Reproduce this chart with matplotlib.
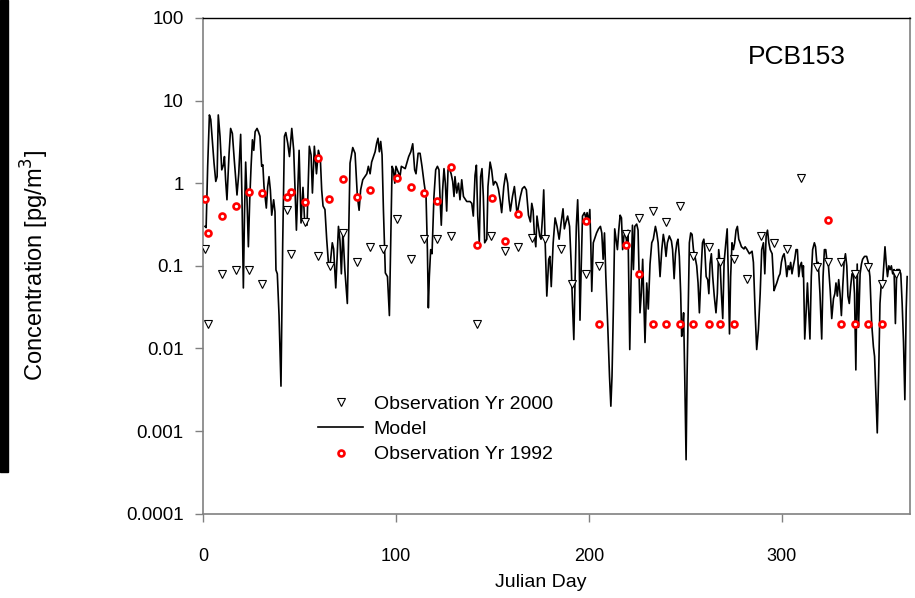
import numpy as np
import matplotlib
matplotlib.use("Agg")
import matplotlib.pyplot as plt
from matplotlib.patches import Rectangle

plt.rcParams['font.family'] = ['Liberation Sans', 'DejaVu Sans']

# observations, year 2000 (open triangles)
days_2000 = [1, 2.8, 10, 16.9, 23.8, 30.8, 43.7, 45.8, 52.9, 59.8, 65.7, 72.5,
             79.7, 86.6, 93.5, 100.7, 107.7, 114.6, 121.5, 128.6, 142.2, 149.3,
             156.6, 163.5, 170.4, 177.3, 185.6, 191.5, 198.4, 205.3, 219.5, 226.2,
             233.1, 240.0, 247.3, 254.2, 262.1, 268.0, 275.3, 282.2, 289.1, 296.0,
             302.9, 309.8, 318.1, 324.0, 330.9, 338.0, 344.7, 352.2, 359.0]
conc_2000 = [0.16, 0.020, 0.079, 0.090, 0.090, 0.060, 0.48, 0.14, 0.34, 0.13, 0.10, 0.25,
             0.11, 0.17, 0.16, 0.37, 0.12, 0.21, 0.21, 0.23, 0.020, 0.23,
             0.15, 0.17, 0.22, 0.21, 0.16, 0.061, 0.079, 0.10, 0.24, 0.38,
             0.46, 0.34, 0.53, 0.13, 0.17, 0.11, 0.12, 0.070, 0.23, 0.19,
             0.16, 1.15, 0.098, 0.11, 0.11, 0.079, 0.098, 0.061, 0.079]

# observations, year 1992 (red circles)
days_1992 = [1.0, 2.8, 10.0, 16.9, 23.8, 30.8, 43.7, 45.8, 52.9, 59.8, 65.5, 72.4,
             79.7, 86.6, 100.7, 107.7, 114.7, 121.5, 128.6, 142.2, 149.6, 156.6,
             163.5, 198.4, 205.3, 219.5, 226.2, 233.1, 240.0, 247.3, 254.2, 262.1,
             268.0, 275.3, 324.0, 330.9, 338.0, 344.7, 352.2]
conc_1992 = [0.65, 0.25, 0.40, 0.53, 0.79, 0.77, 0.69, 0.79, 0.60, 2.0, 0.65, 1.13,
             0.69, 0.83, 1.14, 0.91, 0.76, 0.61, 1.56, 0.18, 0.67, 0.20,
             0.42, 0.35, 0.020, 0.18, 0.079, 0.02, 0.02, 0.02, 0.02, 0.02,
             0.02, 0.02, 0.36, 0.02, 0.02, 0.02, 0.02]

# model run
model_days = [
    1.0, 1.6, 2.4, 3.3, 4.0, 4.8, 5.7, 6.6, 7.3, 7.9, 8.8, 9.7, 10.6, 11.1, 11.7, 12.4,
    13.5, 14.3, 15.2, 16.2, 17.6, 18.5, 19.5, 20.2, 20.9, 21.5, 22.1, 22.8, 23.5, 24.2,
    24.9, 25.6, 26.3, 27.0, 28.0, 28.7, 29.5, 30.4, 31.0, 31.6, 32.8, 33.5, 34.2, 34.9,
    35.6, 36.6, 37.3, 37.8, 38.5, 39.4, 40.4, 41.3, 42.2, 42.9, 43.9, 44.8, 46.0, 47.0,
    48.4, 49.8, 50.8, 51.8, 52.7, 53.9, 55.1, 56.0, 56.7, 57.7, 58.8, 59.8, 60.8, 61.5,
    62.2, 63.2, 64.1, 65.1, 66.0, 67.0, 67.7, 68.8, 70.2, 71.0, 71.7, 72.5, 73.5, 74.8,
    76.2, 77.6, 78.8, 80.0, 80.9, 81.7, 82.8, 84.9, 85.7, 86.6, 87.4, 89.2, 90.0, 90.7,
    91.4, 92.1, 92.8, 93.5, 94.5, 95.6, 96.6, 97.3, 98.0, 98.7, 99.4, 100.0, 102.1, 102.8,
    104.8, 106.6, 107.7, 108.7, 109.7, 110.4, 111.5, 112.5, 113.5, 114.6, 115.6, 116.3,
    116.8, 117.3, 118.0, 118.7, 119.7, 120.6, 121.5, 122.3, 122.9, 123.5, 124.2, 124.9,
    125.6, 126.3, 127.0, 127.7, 128.6, 129.4, 130.1, 130.6, 131.5, 132.4, 133.2, 134.1,
    135.0, 136.7, 138.4, 139.3, 140.1, 141.0, 141.7, 142.4, 143.2, 143.9, 144.6, 145.3,
    146.0, 147.1, 147.7, 148.8, 149.6, 150.5, 151.4, 152.2, 153.1, 154.0, 154.8, 155.9,
    156.9, 157.9, 158.6, 159.3, 160.4, 161.4, 162.1, 162.8, 163.5, 164.5, 165.5, 166.6,
    167.6, 168.7, 169.7, 170.4, 171.1, 171.8, 172.5, 173.1, 173.8, 174.5, 175.2, 176.0,
    176.6, 177.3, 178.2, 179.2, 179.8, 180.5, 181.5, 182.5, 183.5, 184.6, 185.6, 186.6,
    187.3, 188.0, 189.0, 190.0, 190.8, 191.5, 192.2, 192.8, 193.5, 194.2, 194.9, 195.4,
    196.0, 196.7, 197.7, 198.4, 199.1, 199.8, 200.5, 201.0, 201.5, 202.3, 202.9, 204.0,
    205.0, 206.0, 206.7, 207.4, 208.1, 208.8, 209.8, 210.7, 211.4, 212.0, 212.7, 213.4,
    214.1, 214.8, 215.5, 216.2, 216.9, 217.5, 218.2, 219.0, 219.6, 220.3, 221.2, 221.9,
    222.6, 223.1, 223.8, 224.8, 225.5, 226.5, 227.2, 227.9, 229.1, 230.0, 230.8, 231.7,
    232.6, 233.4, 234.5, 235.2, 235.9, 236.9, 237.8, 238.6, 239.3, 240.0, 240.7, 241.7,
    242.8, 243.4, 244.2, 244.9, 245.6, 246.2, 246.9, 247.6, 248.1, 248.6, 249.1, 249.7,
    250.4, 250.9, 251.6, 252.1, 252.8, 253.5, 254.2, 255.0, 255.9, 256.6, 257.3, 258.2,
    258.9, 259.6, 260.1, 260.8, 261.6, 262.2, 262.8, 263.5, 264.2, 265.0, 265.9, 266.6,
    267.3, 268.0, 268.7, 269.4, 270.1, 271.0, 271.7, 272.3, 272.9, 273.5, 274.2, 274.9,
    275.6, 276.3, 277.0, 277.7, 278.4, 279.1, 280.4, 281.0, 281.8, 282.5, 283.2, 283.9,
    284.6, 285.3, 286.2, 287.0, 287.9, 288.8, 289.6, 290.5, 291.2, 291.9, 292.6, 293.3,
    294.0, 295.0, 296.0, 296.7, 297.4, 298.4, 299.1, 299.8, 300.5, 301.2, 301.9, 302.6,
    303.3, 304.0, 304.6, 305.3, 306.0, 306.7, 307.4, 308.1, 308.8, 309.5, 310.2, 310.9,
    311.2, 311.9, 312.6, 313.3, 314.0, 314.6, 315.3, 316.0, 316.9, 317.5, 318.3, 318.9,
    319.8, 320.7, 321.4, 322.1, 322.8, 323.5, 324.2, 325.1, 325.9, 326.8, 327.5, 328.1,
    328.8, 329.5, 330.2, 330.9, 331.6, 332.3, 333.0, 333.7, 334.3, 335.0, 335.7, 336.4,
    337.1, 337.7, 338.4, 339.1, 339.8, 340.6, 341.3, 341.9, 342.9, 344.0, 344.8, 345.7,
    346.6, 347.5, 348.1, 348.8, 349.5, 350.2, 350.9, 351.6, 352.3, 353.0, 353.5, 354.1,
    354.8, 355.5, 356.2, 356.8, 357.5, 358.2, 358.9, 359.6, 360.3, 361.0, 361.7, 362.4,
    363.1, 363.8, 364.5, 365.0]
model_conc = [
    0.30, 0.29, 1.6, 6.7, 5.9, 3.35, 1.75, 1.05, 1.2, 6.7, 3.7, 1.45, 1.67, 2.1, 1.1, 0.63,
    2.3, 4.6, 4.0, 1.9, 0.72, 1.3, 3.9, 0.63, 0.054, 0.43, 1.8, 0.63, 0.17, 0.63,
    1.6, 3.35, 2.5, 4.2, 4.6, 4.2, 3.7, 1.6, 1.67, 0.91, 0.5, 0.91, 1.2, 0.83,
    0.41, 0.63, 0.45, 0.089, 0.08, 0.025, 0.0035, 0.19, 3.7, 4.1, 3.05, 2.1, 4.6, 2.5,
    0.27, 2.5, 0.33, 0.89, 0.33, 0.31, 2.8, 2.2, 0.76, 2.8, 1.3, 2.5, 2.0, 0.83,
    0.53, 0.48, 0.21, 0.10, 0.11, 0.19, 0.16, 0.054, 0.30, 0.20, 0.08, 0.26, 0.09, 0.035,
    1.75, 2.7, 2.3, 0.69, 0.47, 0.83, 1.1, 1.3, 1.6, 1.3, 1.8, 2.4, 3.05, 3.5,
    2.4, 3.2, 2.2, 0.48, 0.082, 0.074, 0.025, 0.19, 1.6, 1.45, 1.0, 1.6, 1.2, 1.6,
    1.5, 2.1, 2.4, 3.0, 1.45, 1.3, 2.3, 2.3, 1.6, 1.0, 0.69, 0.157,
    0.031, 0.074, 0.157, 0.14, 0.69, 1.45, 1.6, 1.45, 0.63, 0.31, 0.83, 1.5,
    1.0, 0.46, 1.45, 1.5, 1.3, 1.05, 0.69, 1.2, 0.76, 1.0, 0.63, 1.1,
    0.69, 0.6, 0.6, 0.57, 0.4, 1.25, 1.65, 0.4, 0.19, 1.2, 1.5, 0.69,
    0.19, 0.21, 0.91, 1.8, 1.45, 0.95, 1.05, 1.0, 0.85, 0.63, 0.44, 0.91,
    1.3, 1.0, 0.63, 0.46, 0.69, 0.91, 0.63, 0.41, 0.52, 0.69, 0.86, 0.91,
    0.83, 0.41, 0.34, 0.57, 0.47, 0.23, 0.17, 0.4, 0.3, 0.23, 0.21, 0.4,
    0.83, 0.21, 0.043, 0.12, 0.13, 0.056, 0.19, 0.38, 0.3, 0.21, 0.33, 0.49,
    0.28, 0.33, 0.4, 0.3, 0.11, 0.035, 0.0128, 0.06, 0.3, 0.63, 0.19, 0.022,
    0.09, 0.4, 0.44, 0.38, 0.44, 0.33, 0.48, 0.19, 0.049, 0.19, 0.21, 0.25,
    0.28, 0.3, 0.25, 0.12, 0.25, 0.074, 0.0185, 0.0046, 0.002, 0.0046, 0.03, 0.28,
    0.21, 0.157, 0.27, 0.41, 0.38, 0.157, 0.23, 0.26, 0.19, 0.27, 0.0097, 0.074,
    0.31, 0.09, 0.3, 0.32, 0.27, 0.027, 0.047, 0.12, 0.0118, 0.062, 0.03, 0.105,
    0.19, 0.21, 0.3, 0.25, 0.19, 0.074, 0.157, 0.24, 0.19, 0.13, 0.19, 0.23,
    0.2, 0.157, 0.07, 0.14, 0.19, 0.21, 0.13, 0.046, 0.014, 0.017, 0.027, 0.0046,
    0.00045, 0.0046, 0.043, 0.19, 0.25, 0.24, 0.157, 0.13, 0.1, 0.062, 0.027, 0.089,
    0.19, 0.21, 0.157, 0.074, 0.068, 0.046, 0.105, 0.14, 0.074, 0.043, 0.027, 0.046,
    0.157, 0.11, 0.046, 0.023, 0.11, 0.19, 0.28, 0.074, 0.015, 0.074, 0.19, 0.157,
    0.19, 0.27, 0.3, 0.21, 0.19, 0.17, 0.16, 0.17, 0.16, 0.15, 0.14, 0.145,
    0.15, 0.11, 0.027, 0.0097, 0.017, 0.046, 0.157, 0.19, 0.08, 0.23, 0.27, 0.19,
    0.157, 0.14, 0.05, 0.056, 0.062, 0.074, 0.08, 0.11, 0.13, 0.14, 0.11, 0.074,
    0.1, 0.09, 0.11, 0.08, 0.1, 0.12, 0.157, 0.157, 0.074, 0.1, 0.11, 0.074,
    0.1, 0.013, 0.027, 0.062, 0.027, 0.013, 0.074, 0.157, 0.19, 0.17, 0.1, 0.11,
    0.046, 0.013, 0.074, 0.157, 0.157, 0.11, 0.1, 0.051, 0.023, 0.04, 0.046, 0.062,
    0.043, 0.068, 0.046, 0.025, 0.056, 0.11, 0.14, 0.1, 0.043, 0.035, 0.056, 0.08,
    0.08, 0.046, 0.0055, 0.105, 0.018, 0.08, 0.105, 0.12, 0.13, 0.13, 0.11, 0.074,
    0.02, 0.0105, 0.008, 0.0027, 0.00095, 0.0046, 0.035, 0.062, 0.062, 0.11, 0.17, 0.11,
    0.074, 0.1, 0.09, 0.1, 0.08, 0.09, 0.02, 0.09, 0.09, 0.09, 0.08, 0.035,
    0.012, 0.0024, 0.03, 0.074]

y_ticks = [1e-4, 1e-3, 1e-2, 1e-1, 1, 10, 100]
y_labels = ["0.0001", "0.001", "0.01", "0.1", "1", "10", "100"]
x_ticks = [0, 100, 200, 300]

fig = plt.figure(figsize=(9.15, 5.98), dpi=100)
ax = fig.add_axes([0.2219, 0.141, 0.7727, 0.829])

ax.plot(model_days, model_conc, color="black", lw=1.2, zorder=2, label="Model")
ax.plot(days_2000, conc_2000, ls="none", marker="v", ms=5.5, mfc="white",
        mec="black", mew=0.8, zorder=3, label="Observation Yr 2000")
ax.plot(days_1992, conc_1992, ls="none", marker="o", ms=4.3, mfc="white",
        mec="red", mew=1.9, zorder=4, label="Observation Yr 1992")

ax.set_yscale("log")
ax.set_xlim(0, 366.5)
ax.set_ylim(1e-4, 100)
ax.set_yticks(y_ticks)
ax.set_yticklabels(y_labels)
ax.yaxis.set_minor_locator(matplotlib.ticker.NullLocator())
ax.set_xticks(x_ticks)

grey = "#808080"
for side in ["left", "bottom", "right"]:
    ax.spines[side].set_color(grey)
    ax.spines[side].set_linewidth(1.2)
ax.spines["top"].set_color("black")
ax.spines["top"].set_linewidth(1.0)
ax.tick_params(axis="y", direction="out", length=6, width=1, color=grey,
               labelsize=13.5, pad=8)
ax.tick_params(axis="x", direction="out", length=6, width=1, color=grey,
               labelsize=13, pad=19)

ax.set_ylabel("Concentration [pg/m$^3$]", fontsize=17)
ax.yaxis.set_label_coords(-0.2155, 0.5)
ax.set_xlabel("Julian Day", fontsize=14, va="center")
ax.xaxis.set_label_coords(0.478, -0.138)

ax.text(0.84, 0.921, "PCB153", transform=ax.transAxes, fontsize=19,
        ha="center", va="center")

h, l = ax.get_legend_handles_labels()
order = [1, 0, 2]
ax.legend([h[i] for i in order], [l[i] for i in order], loc="upper left",
          bbox_to_anchor=(0.163, 0.2395), frameon=False, fontsize=14,
          numpoints=1, handlelength=2.3, handletextpad=0.55, labelspacing=0.4,
          borderpad=0, borderaxespad=0)

# dark strip at the left edge of the original image
fig.patches.append(Rectangle((0, 1 - 472 / 598), 8 / 915, 472 / 598,
                             transform=fig.transFigure, color="black"))

fig.savefig("out.png", dpi=100)
